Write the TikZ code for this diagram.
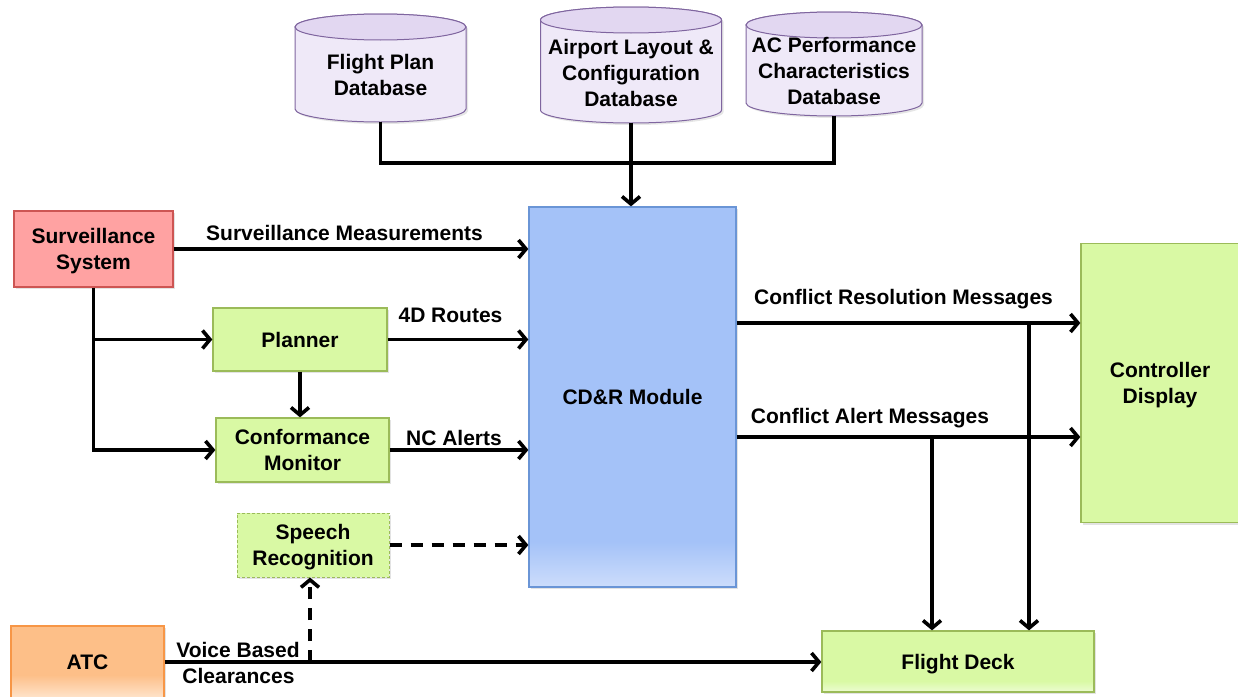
\documentclass[tikz,border=0pt]{standalone}
\usepackage{fontspec}
\setmainfont{Liberation Sans}
\usetikzlibrary{arrows.meta,shadows}

\definecolor{gfill}{HTML}{D9F9A4}
\definecolor{glight}{HTML}{ECFCD2}
\definecolor{gline}{HTML}{9BBB59}
\definecolor{rfill}{HTML}{FFA2A2}
\definecolor{rline}{HTML}{CD5553}
\definecolor{bfill}{HTML}{A4C2F8}
\definecolor{blight}{HTML}{CDDDFB}
\definecolor{bline}{HTML}{6A95D6}
\definecolor{ofill}{HTML}{FDBF88}
\definecolor{olight}{HTML}{FEE4CC}
\definecolor{oline}{HTML}{F79646}
\definecolor{dbbody}{HTML}{EFE9F8}
\definecolor{dbtop}{HTML}{E2D7F1}
\definecolor{dbline}{HTML}{7F659F}

% bottom-lightened fills (path box maps to 25bp..75bp)
\pgfdeclareverticalshading{cdrfade}{100bp}{color(0bp)=(blight); color(25bp)=(blight); color(31bp)=(bfill); color(100bp)=(bfill)}
\pgfdeclareverticalshading{atcfade}{100bp}{color(0bp)=(olight); color(25bp)=(olight); color(41bp)=(ofill); color(100bp)=(ofill)}
\pgfdeclareverticalshading{deckfade}{100bp}{color(0bp)=(glight); color(25bp)=(glight); color(34bp)=(gfill); color(100bp)=(gfill)}

% database drum: centre x, top y, bottom y, half width
\newcommand\drawdrum[4]{%
  \filldraw[draw=dbline, fill=dbbody, line width=1pt,
    drop shadow={shadow xshift=2pt, shadow yshift=-2pt, opacity=0.2}]
    ({#1-#4},{#2+13}) -- ({#1-#4},{#3-13})
    arc[start angle=180, end angle=0, x radius=#4, y radius=13]
    -- ({#1+#4},{#2+13})
    arc[start angle=0, end angle=-180, x radius=#4, y radius=13] -- cycle;
  \filldraw[draw=dbline, fill=dbtop, line width=1pt]
    (#1,{#2+13}) ellipse[x radius=#4, y radius=13];
}

\begin{document}
\begin{tikzpicture}[x=1pt, y=-1pt,
  lbl/.style={font=\fontsize{21}{26}\selectfont\bfseries, align=center, inner sep=0pt},
  box/.style={lbl, rectangle, line width=1.3pt, text depth=0pt,
    drop shadow={shadow xshift=2pt, shadow yshift=-2pt, opacity=0.22}},
  greenbox/.style={box, draw=gline, fill=gfill},
  wire/.style={line width=3.6pt},
  conn/.style={wire, -{Straight Barb[length=7.5pt, width=18pt]}},
  dconn/.style={conn, dash pattern=on 12pt off 9pt},
  ghost/.style={inner sep=0pt, draw=none}]

\useasboundingbox (0,0) rectangle (1238,696);

% databases
\drawdrum{380.5}{14}{122}{85.5}
\drawdrum{631}{7}{123}{90.5}
\drawdrum{834}{12}{116}{88}
\node[ghost, minimum width=171, minimum height=108] (fpdb) at (380.5,68) {};
\node[ghost, minimum width=181, minimum height=116] (apdb) at (631,65) {};
\node[ghost, minimum width=176, minimum height=104] (acdb) at (834,64) {};
\node[lbl] (fptext) at (380.5,75) {Flight Plan\\Database};
\node[lbl] (aptext) at (631,73) {Airport Layout \&\\Configuration\\Database};
\node[lbl] (actext) at (834,71) {AC Performance\\Characteristics\\Database};

% blocks
\node[box, draw=rline, fill=rfill, minimum width=159, minimum height=76] (surv) at (93.5,249) {Surveillance\\System};
\node[greenbox, minimum width=174, minimum height=63] (planner) at (300,339.5) {Planner};
\node[greenbox, minimum width=173, minimum height=64] (conf) at (302.5,450) {Conformance\\Monitor};
\node[box, draw=gline, fill=gfill, line width=1pt, dash pattern=on 3pt off 2pt,
      minimum width=152, minimum height=64] (speech) at (313,545) {Speech\\Recognition};
\node[box, draw=bline, shade, shading=cdrfade, minimum width=207, minimum height=380] (cdr) at (632.5,397) {CD\&R Module};
\node[greenbox, minimum width=164, minimum height=279] (disp) at (1163,383) {\hspace*{-6pt}Controller\\\hspace*{-6pt}Display};
\node[box, draw=gline, shade, shading=deckfade, minimum width=272, minimum height=61] (fdeck) at (958,661.5) {Flight Deck};
\node[box, draw=oline, shade, shading=atcfade, minimum width=153, minimum height=72] (atc) at (87.5,662) {ATC};

% database feeds
\coordinate (bus) at (631,163);
\draw[wire] (fpdb.south) |- (bus) -| (acdb.south);
\draw[conn] (apdb.south) -- (apdb.south |- cdr.north);

% inputs to the CD&R module
\draw[conn] (surv.east) -- (surv.east -| cdr.west);
\draw[conn] (surv.south) |- (conf.west);
\draw[conn] (surv.south |- planner.west) -- (planner.west);
\draw[conn] (planner.south) -- (planner.south |- conf.north);
\draw[conn] (planner.east) -- (planner.east -| cdr.west);
\draw[conn] (conf.east) -- (conf.east -| cdr.west);
\draw[dconn] (speech.east) -- (speech.east -| cdr.west);

% voice clearances
\coordinate (vtap) at (310,662);
\draw[conn] (atc.east) -- (atc.east -| fdeck.west);
\draw[dconn] (vtap) -- (vtap |- speech.south);

% outputs
\coordinate (resout) at ([yshift=74pt]cdr.east);
\coordinate (alertout) at ([yshift=-40pt]cdr.east);
\coordinate (resdrop) at (1029,323);
\coordinate (alertdrop) at (932,437);
\draw[conn] (resout) -- (resout -| disp.west);
\draw[conn] (alertout) -- (alertout -| disp.west);
\draw[conn] (resdrop) -- (resdrop |- fdeck.north);
\draw[conn] (alertdrop) -- (alertdrop |- fdeck.north);

% connector labels
\node[lbl, anchor=base] (lsm) at (344.5,240) {Surveillance Measurements};
\node[lbl, anchor=base] (l4d) at (450.5,322) {4D Routes};
\node[lbl, anchor=base] (lnc) at (454,445) {NC Alerts};
\node[lbl, anchor=base] (lcr) at (903.5,304) {Conflict Resolution Messages};
\node[lbl, anchor=base] (lca) at (870,423) {Conflict Alert Messages};
\node[lbl, anchor=base] (lvb) at (238,657) {Voice Based};
\node[lbl, anchor=base] (lcl) at (238.5,683) {Clearances};

\end{tikzpicture}
\end{document}
